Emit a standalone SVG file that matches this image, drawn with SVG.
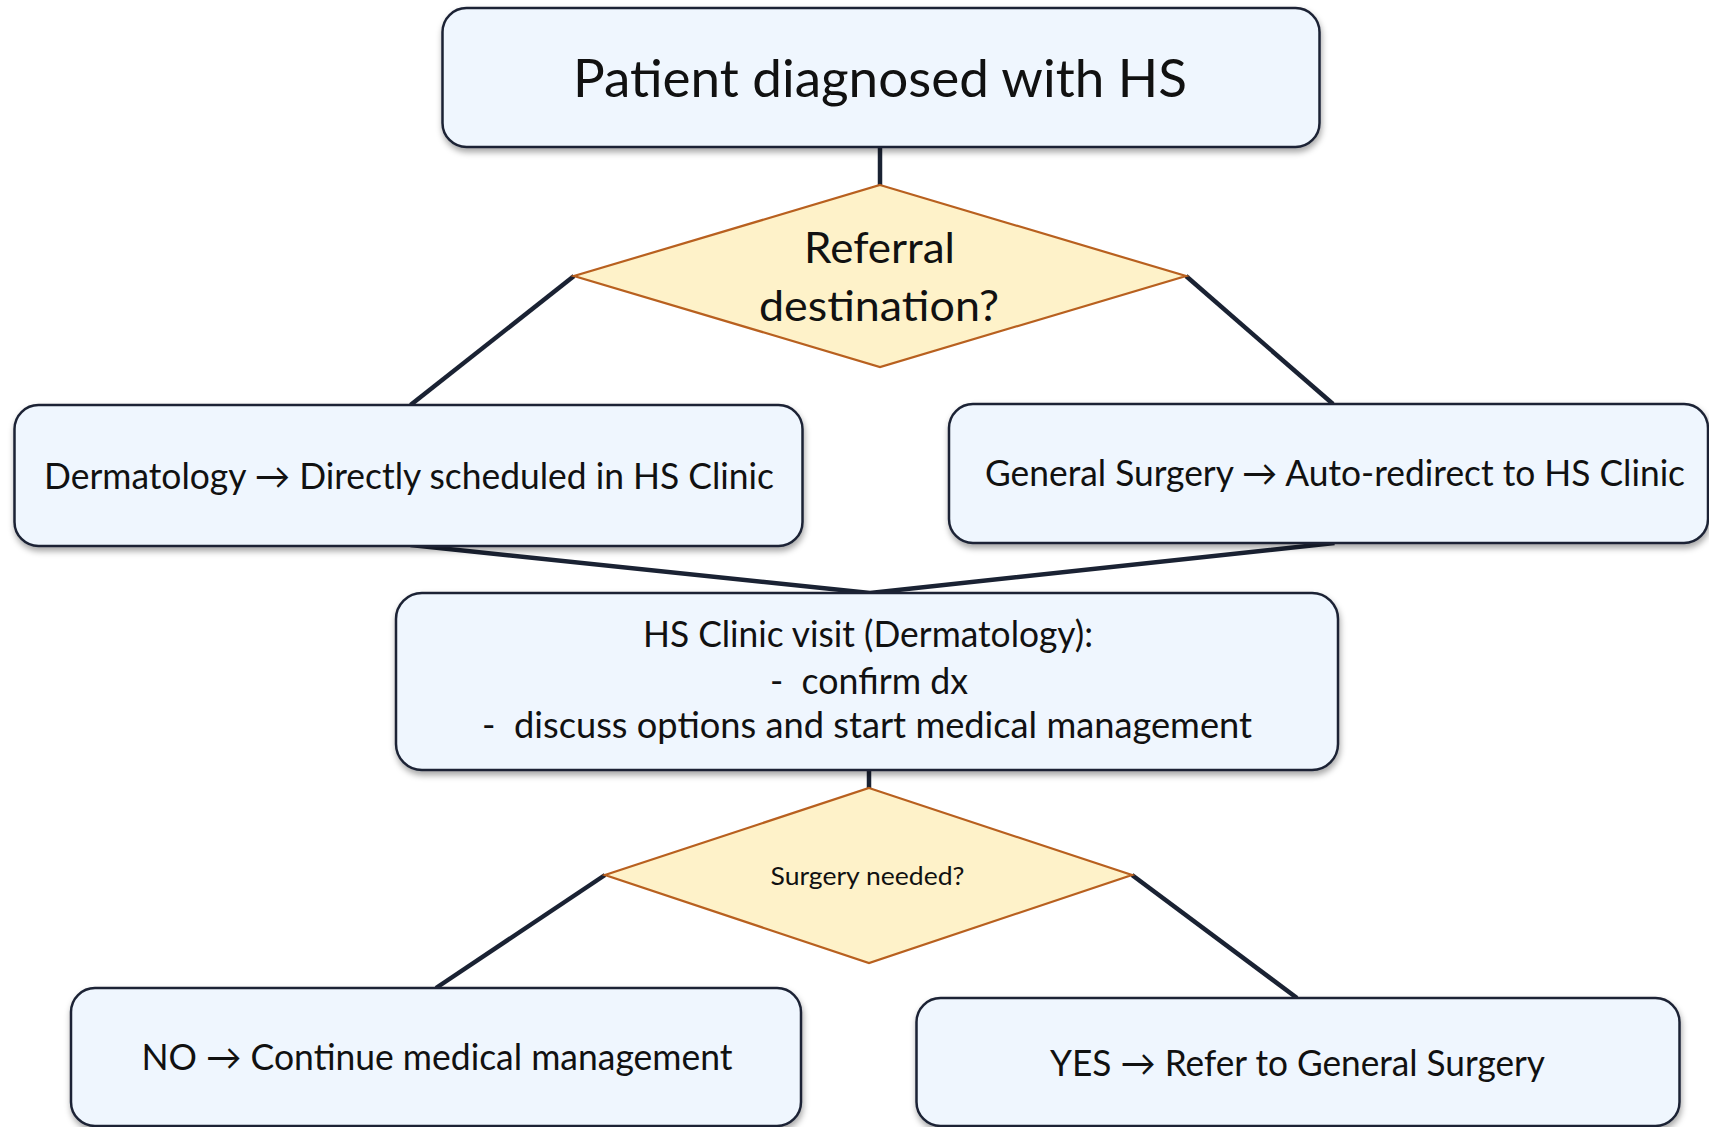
<svg xmlns="http://www.w3.org/2000/svg" width="1709" height="1127" viewBox="0 0 1709 1127">
<defs>
<filter id="sh" x="-5%" y="-10%" width="110%" height="130%">
<feDropShadow dx="1" dy="4" stdDeviation="3" flood-color="#000" flood-opacity="0.35"/>
</filter>
</defs>
<style>
.box{fill:#eff6fe;stroke:#1c2435;stroke-width:2.5;filter:url(#sh)}
.dia{fill:#fef2c9;stroke:#b8601f;stroke-width:2.2}
.con{stroke:#1a2233;stroke-width:4.5;fill:none;stroke-linecap:butt}
text{font-family:Lato,"Open Sans","Liberation Sans",sans-serif;fill:#111;text-anchor:middle}
.l{font-size:36px}
</style>
<rect width="1709" height="1127" fill="#ffffff"/>
<g id="connectors">
<line class="con" x1="880" y1="147" x2="880" y2="186"/>
<line class="con" x1="574" y1="276" x2="410.5" y2="405"/>
<line class="con" x1="1186" y1="276" x2="1333" y2="404"/>
<polyline class="con" points="410.5,545 870,593 1334.5,543"/>
<line class="con" x1="869" y1="770" x2="869" y2="789"/>
<line class="con" x1="605" y1="875" x2="436" y2="988"/>
<line class="con" x1="1132" y1="875" x2="1297" y2="998"/>
</g>
<g id="start">
<rect class="box" x="442.5" y="8" width="877" height="139" rx="24"/>
<text x="880" y="97" font-size="53" textLength="614" lengthAdjust="spacingAndGlyphs">Patient diagnosed with HS</text>
</g>
<g id="referral">
<polygon class="dia" points="880,185 1186,276 880,367 574,276"/>
<text x="879.5" y="263" font-size="43" textLength="151" lengthAdjust="spacingAndGlyphs">Referral</text>
<text x="879" y="321" font-size="43" textLength="240" lengthAdjust="spacingAndGlyphs">destination?</text>
</g>
<g id="derm">
<rect class="box" x="14.5" y="405" width="788" height="141" rx="24"/>
<text class="l" x="409" y="489" textLength="730" lengthAdjust="spacingAndGlyphs">Dermatology → Directly scheduled in HS Clinic</text>
</g>
<g id="gensurg">
<rect class="box" x="949" y="404" width="759" height="139" rx="24"/>
<text class="l" x="1335" y="486" textLength="700" lengthAdjust="spacingAndGlyphs">General Surgery → Auto-redirect to HS Clinic</text>
</g>
<g id="visit">
<rect class="box" x="396" y="593" width="942" height="177" rx="26"/>
<text class="l" x="868" y="647" textLength="450" lengthAdjust="spacingAndGlyphs">HS Clinic visit (Dermatology):</text>
<text class="l" x="869" y="694" textLength="198" lengthAdjust="spacingAndGlyphs" xml:space="preserve">-  confirm dx</text>
<text class="l" x="867" y="738" textLength="770" lengthAdjust="spacingAndGlyphs" xml:space="preserve">-  discuss options and start medical management</text>
</g>
<g id="surgery">
<polygon class="dia" points="869,788 1132,875 869,963 605,875"/>
<text x="867.5" y="885" font-size="25" textLength="194" lengthAdjust="spacingAndGlyphs">Surgery needed?</text>
</g>
<g id="no">
<rect class="box" x="71" y="988" width="730" height="138" rx="24"/>
<text class="l" x="437" y="1070" textLength="591" lengthAdjust="spacingAndGlyphs">NO → Continue medical management</text>
</g>
<g id="yes">
<rect class="box" x="916.5" y="998" width="763" height="128" rx="24"/>
<text class="l" x="1297.5" y="1076" textLength="495" lengthAdjust="spacingAndGlyphs">YES → Refer to General Surgery</text>
</g>
</svg>
